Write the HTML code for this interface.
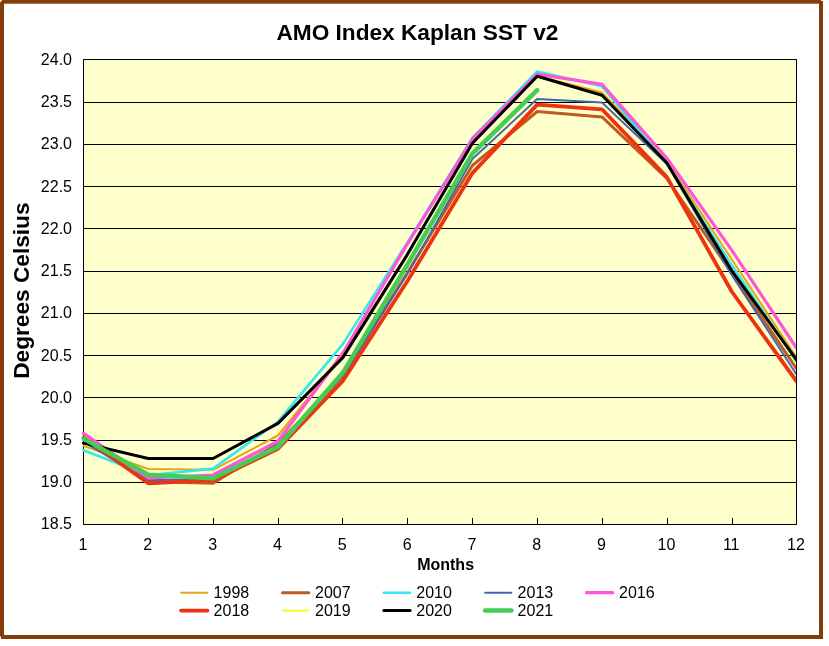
<!DOCTYPE html>
<html lang="en"><head><meta charset="utf-8"><title>AMO Index Kaplan SST v2</title>
<style>html,body{margin:0;padding:0;background:#fff;}svg{display:block;}text{font-family:"Liberation Sans",Arial,sans-serif;}</style>
</head><body>
<svg width="829" height="646" viewBox="0 0 829 646">
<rect x="0" y="0" width="829" height="646" fill="#ffffff"/>
<rect x="2" y="1.7" width="819" height="635.3" fill="#ffffff" stroke="#843C0B" stroke-width="4"/>
<polygon points="0,0 2.3,0 0,2.5" fill="#ffffff"/>
<rect x="821" y="0" width="3" height="0.9" fill="#ffffff"/>
<rect x="0" y="636.4" width="1" height="3" fill="#ffffff"/>
<defs><clipPath id="pc"><rect x="81.5" y="40" width="714.5" height="500"/></clipPath></defs>
<rect x="83.5" y="59.5" width="713.0" height="465" fill="#FFFFCC"/>
<rect x="83" y="59" width="714" height="1" fill="#000"/>
<rect x="83" y="102" width="714" height="1" fill="#000"/>
<rect x="83" y="144" width="714" height="1" fill="#000"/>
<rect x="83" y="186" width="714" height="1" fill="#000"/>
<rect x="83" y="228" width="714" height="1" fill="#000"/>
<rect x="83" y="271" width="714" height="1" fill="#000"/>
<rect x="83" y="313" width="714" height="1" fill="#000"/>
<rect x="83" y="355" width="714" height="1" fill="#000"/>
<rect x="83" y="397" width="714" height="1" fill="#000"/>
<rect x="83" y="440" width="714" height="1" fill="#000"/>
<rect x="83" y="482" width="714" height="1" fill="#000"/>
<rect x="83" y="524" width="714" height="1" fill="#000"/>
<rect x="83" y="59" width="1" height="466" fill="#000"/>
<rect x="148" y="518" width="1" height="6" fill="#000"/>
<rect x="213" y="518" width="1" height="6" fill="#000"/>
<rect x="278" y="518" width="1" height="6" fill="#000"/>
<rect x="342" y="518" width="1" height="6" fill="#000"/>
<rect x="407" y="518" width="1" height="6" fill="#000"/>
<rect x="472" y="518" width="1" height="6" fill="#000"/>
<rect x="537" y="518" width="1" height="6" fill="#000"/>
<rect x="602" y="518" width="1" height="6" fill="#000"/>
<rect x="667" y="518" width="1" height="6" fill="#000"/>
<rect x="732" y="518" width="1" height="6" fill="#000"/>
<g clip-path="url(#pc)" fill="none" stroke-linejoin="round" stroke-linecap="round">
<polyline points="83.5,445.9 148.3,469.0 213.1,469.8 278.0,435.5 342.8,355.5 407.6,253.5 472.4,142.6 537.2,76.0 602.0,92.5 666.9,161.0 731.7,259.3 796.5,357.2" stroke="#E3A614" stroke-width="2.0"/>
<polyline points="83.5,438.0 148.3,481.5 213.1,483.2 278.0,443.6 342.8,376.0 407.6,272.5 472.4,165.5 537.2,111.5 602.0,116.9 666.9,178.5 731.7,273.0 796.5,368.6" stroke="#BF5B1F" stroke-width="3.0"/>
<polyline points="83.5,450.2 148.3,475.2 213.1,468.6 278.0,421.7 342.8,344.1 407.6,242.2 472.4,138.0 537.2,71.4 602.0,86.3 666.9,164.0 731.7,265.1 796.5,361.2" stroke="#33E8F0" stroke-width="2.6"/>
<polyline points="83.5,442.0 148.3,480.2 213.1,479.0 278.0,444.8 342.8,376.0 407.6,273.6 472.4,159.0 537.2,99.0 602.0,102.5 666.9,164.0 731.7,275.0 796.5,374.5" stroke="#4466B0" stroke-width="1.9"/>
<polyline points="83.5,433.2 148.3,478.0 213.1,475.0 278.0,441.2 342.8,353.3 407.6,243.5 472.4,139.0 537.2,74.1 602.0,84.4 666.9,158.2 731.7,250.1 796.5,348.0" stroke="#FF55D8" stroke-width="3.2"/>
<polyline points="83.5,437.5 148.3,483.3 213.1,480.2 278.0,448.8 342.8,380.9 407.6,280.8 472.4,173.1 537.2,104.6 602.0,109.3 666.9,177.1 731.7,291.5 796.5,381.3" stroke="#EE3311" stroke-width="3.8"/>
<polyline points="83.5,443.1 148.3,458.5 213.1,458.5 278.0,423.4 342.8,357.6 407.6,254.1 472.4,143.3 537.2,76.3 602.0,95.2 666.9,163.0 731.7,270.6 796.5,359.8" stroke="#FFF800" stroke-width="1.8"/>
<polyline points="83.5,443.1 148.3,458.5 213.1,458.5 278.0,423.4 342.8,357.6 407.6,254.1 472.4,143.3 537.2,76.3 602.0,95.2 666.9,163.0 731.7,270.6 796.5,359.8" stroke="#000000" stroke-width="3.0"/>
<polyline points="83.5,438.6 148.3,474.8 213.1,478.3 278.0,446.7 342.8,372.8 407.6,264.2 472.4,153.6 537.2,90.1" stroke="#44CC55" stroke-width="4.5"/>
</g>
<rect x="796" y="59" width="1" height="466" fill="#000"/>
<text x="417.4" y="39.7" font-size="22.67" font-weight="bold" text-anchor="middle" fill="#000">AMO Index Kaplan SST v2</text>
<text x="72" y="64.9" font-size="16" text-anchor="end" fill="#000">24.0</text>
<text x="72" y="107.1" font-size="16" text-anchor="end" fill="#000">23.5</text>
<text x="72" y="149.4" font-size="16" text-anchor="end" fill="#000">23.0</text>
<text x="72" y="191.6" font-size="16" text-anchor="end" fill="#000">22.5</text>
<text x="72" y="233.8" font-size="16" text-anchor="end" fill="#000">22.0</text>
<text x="72" y="276.0" font-size="16" text-anchor="end" fill="#000">21.5</text>
<text x="72" y="318.3" font-size="16" text-anchor="end" fill="#000">21.0</text>
<text x="72" y="360.5" font-size="16" text-anchor="end" fill="#000">20.5</text>
<text x="72" y="402.7" font-size="16" text-anchor="end" fill="#000">20.0</text>
<text x="72" y="444.9" font-size="16" text-anchor="end" fill="#000">19.5</text>
<text x="72" y="487.2" font-size="16" text-anchor="end" fill="#000">19.0</text>
<text x="72" y="529.4" font-size="16" text-anchor="end" fill="#000">18.5</text>
<text x="83.0" y="549.7" font-size="16" text-anchor="middle" fill="#000">1</text>
<text x="147.8" y="549.7" font-size="16" text-anchor="middle" fill="#000">2</text>
<text x="212.6" y="549.7" font-size="16" text-anchor="middle" fill="#000">3</text>
<text x="277.5" y="549.7" font-size="16" text-anchor="middle" fill="#000">4</text>
<text x="342.3" y="549.7" font-size="16" text-anchor="middle" fill="#000">5</text>
<text x="407.1" y="549.7" font-size="16" text-anchor="middle" fill="#000">6</text>
<text x="471.9" y="549.7" font-size="16" text-anchor="middle" fill="#000">7</text>
<text x="536.7" y="549.7" font-size="16" text-anchor="middle" fill="#000">8</text>
<text x="601.5" y="549.7" font-size="16" text-anchor="middle" fill="#000">9</text>
<text x="666.4" y="549.7" font-size="16" text-anchor="middle" fill="#000">10</text>
<text x="731.2" y="549.7" font-size="16" text-anchor="middle" fill="#000">11</text>
<text x="796.0" y="549.7" font-size="16" text-anchor="middle" fill="#000">12</text>
<text x="445.6" y="569.6" font-size="16" font-weight="bold" text-anchor="middle" fill="#000">Months</text>
<text transform="translate(29.2,290.6) rotate(-90)" font-size="22.67" font-weight="bold" text-anchor="middle" fill="#000">Degrees Celsius</text>
<line x1="181.1" y1="592.7" x2="207.4" y2="592.7" stroke="#E3A614" stroke-width="2.0" stroke-linecap="round"/>
<text x="213.6" y="598.0" font-size="16" fill="#000">1998</text>
<line x1="282.5" y1="592.7" x2="308.8" y2="592.7" stroke="#BF5B1F" stroke-width="3.0" stroke-linecap="round"/>
<text x="315.0" y="598.0" font-size="16" fill="#000">2007</text>
<line x1="383.8" y1="592.7" x2="410.1" y2="592.7" stroke="#33E8F0" stroke-width="2.6" stroke-linecap="round"/>
<text x="416.3" y="598.0" font-size="16" fill="#000">2010</text>
<line x1="485.1" y1="592.7" x2="511.4" y2="592.7" stroke="#4466B0" stroke-width="1.9" stroke-linecap="round"/>
<text x="517.6" y="598.0" font-size="16" fill="#000">2013</text>
<line x1="586.5" y1="592.7" x2="612.8" y2="592.7" stroke="#FF55D8" stroke-width="3.2" stroke-linecap="round"/>
<text x="619.0" y="598.0" font-size="16" fill="#000">2016</text>
<line x1="181.1" y1="610.6" x2="207.4" y2="610.6" stroke="#EE3311" stroke-width="3.8" stroke-linecap="round"/>
<text x="213.6" y="615.9" font-size="16" fill="#000">2018</text>
<line x1="282.5" y1="610.6" x2="308.8" y2="610.6" stroke="#FFF800" stroke-width="1.8" stroke-linecap="round"/>
<text x="315.0" y="615.9" font-size="16" fill="#000">2019</text>
<line x1="383.8" y1="610.6" x2="410.1" y2="610.6" stroke="#000000" stroke-width="3.0" stroke-linecap="round"/>
<text x="416.3" y="615.9" font-size="16" fill="#000">2020</text>
<line x1="485.1" y1="610.6" x2="511.4" y2="610.6" stroke="#44CC55" stroke-width="4.5" stroke-linecap="round"/>
<text x="517.6" y="615.9" font-size="16" fill="#000">2021</text>
</svg>
</body></html>
